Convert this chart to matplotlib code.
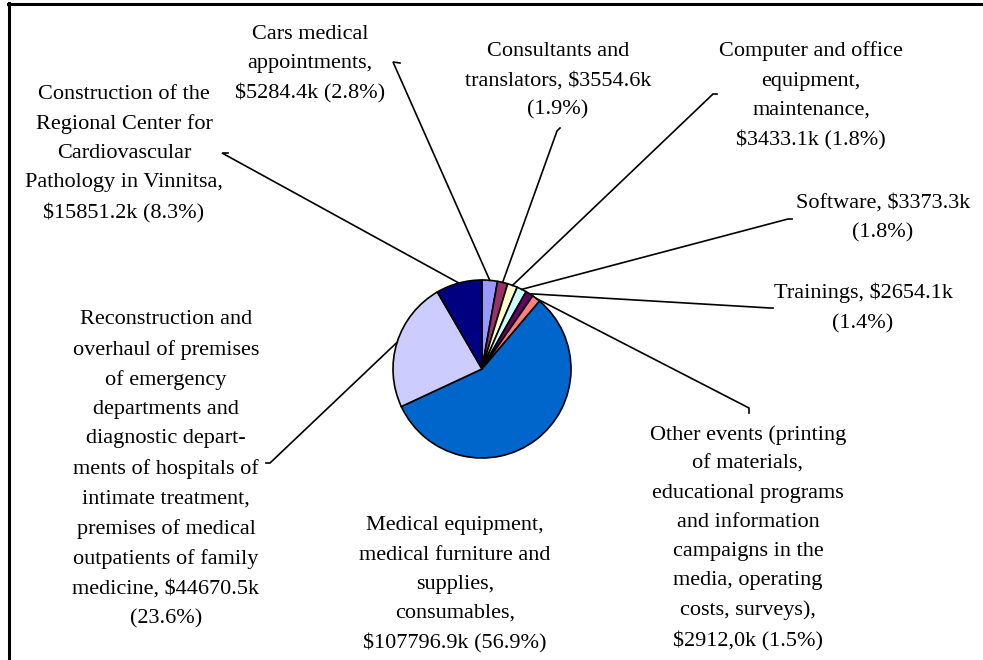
import numpy as np
import matplotlib
matplotlib.use("Agg")
import matplotlib.pyplot as plt

categories = [
    "Cars medical\nappointments,\n$5284.4k (2.8%)",
    "Consultants and\ntranslators, $3554.6k\n(1.9%)",
    "Computer and office\nequipment,\nmaintenance,\n$3433.1k (1.8%)",
    "Software, $3373.3k\n(1.8%)",
    "Trainings, $2654.1k\n(1.4%)",
    "Other events (printing\nof materials,\neducational programs\nand information\ncampaigns in the\nmedia, operating\ncosts, surveys),\n$2912,0k (1.5%)",
    "Medical equipment,\nmedical furniture and\nsupplies,\nconsumables,\n$107796.9k (56.9%)",
    "Reconstruction and\noverhaul of premises\nof emergency\ndepartments and\ndiagnostic depart-\nments of hospitals of\nintimate treatment,\npremises of medical\noutpatients of family\nmedicine, $44670.5k\n(23.6%)",
    "Construction of the\nRegional Center for\nCardiovascular\nPathology in Vinnitsa,\n$15851.2k (8.3%)",
]
values = [5284.4, 3554.6, 3433.1, 3373.3, 2654.1, 2912.0, 107796.9, 44670.5, 15851.2]
colors = ["#9999FF", "#993366", "#FFFFCC", "#CCFFFF", "#660066", "#FF8080",
          "#0066CC", "#CCCCFF", "#000080"]

W, H = 983, 660
fig = plt.figure(figsize=(W / 100, H / 100), dpi=100)
ax = fig.add_axes([0, 0, 1, 1])
ax.set_xlim(0, W)
ax.set_ylim(0, H)
ax.set_aspect("equal")
ax.axis("off")

cx, cy, r = 482, H - 369, 89
wedges, _ = ax.pie(values, colors=colors, startangle=90, counterclock=False,
                   center=(cx, cy), radius=r,
                   wedgeprops=dict(edgecolor="black", linewidth=1.2))
ax.set_xlim(0, W)
ax.set_ylim(0, H)

# label centers (pixel coords from top) and leader anchors (pixel coords from top)
label_pos = [
    (310, 64), (558, 81), (811, 96), (883, 218), (863, 308),
    (748, 538), (455, 585), (166, 469), (124, 154),
]
anchors = [
    ((393, 62), (400, 63)),
    ((557, 131), (560, 128)),
    ((713, 94), (717, 94)),
    ((788, 219), (792, 219)),
    ((770, 308), (773, 308)),
    ((749, 408), (749, 413)),
    None,
    ((270, 463), (266, 463)),
    ((222, 153), (228, 153)),
]

fs = 16
for i, (w, lab) in enumerate(zip(wedges, categories)):
    lx, ly = label_pos[i]
    ax.text(lx, H - ly, lab, ha="center", va="center", fontsize=fs,
            family="Liberation Serif", linespacing=1.72)
    if anchors[i] is not None:
        mid = np.deg2rad((w.theta1 + w.theta2) / 2)
        ex, ey = cx + r * np.cos(mid), cy + r * np.sin(mid)
        (ax1, ay1), (ax2, ay2) = anchors[i]
        ax.plot([ex, ax1, ax2], [ey, H - ay1, H - ay2], color="black", lw=1.2,
                solid_joinstyle="miter")

# frame (top and left visible)
ax.plot([8, W], [H - 4, H - 4], color="black", lw=2.2)
ax.plot([9, 9], [H - 3, 0], color="black", lw=2.2)

fig.savefig("out.png", dpi=100)
